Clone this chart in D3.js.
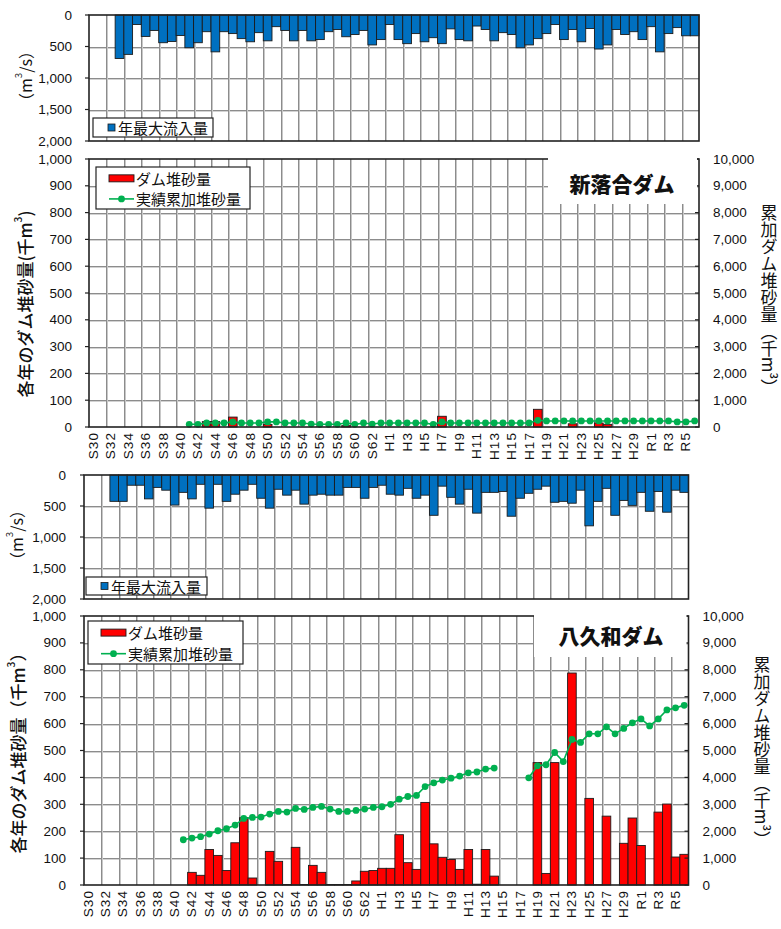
<!DOCTYPE html>
<html>
<head>
<meta charset="utf-8">
<script src="https://cdn.jsdelivr.net/npm/d3@7"></script>
<style>
  body { margin: 0; background: #fff; }
  svg { display: block; }
</style>
</head>
<body>
<svg id="chart" width="781" height="929"></svg>
<script>
// Fiscal years S30 (1955) through R6 (2024)
const years = [
  "S30","S31","S32","S33","S34","S35","S36","S37","S38","S39",
  "S40","S41","S42","S43","S44","S45","S46","S47","S48","S49",
  "S50","S51","S52","S53","S54","S55","S56","S57","S58","S59",
  "S60","S61","S62","S63","H1","H2","H3","H4","H5","H6",
  "H7","H8","H9","H10","H11","H12","H13","H14","H15","H16",
  "H17","H18","H19","H20","H21","H22","H23","H24","H25","H26",
  "H27","H28","H29","H30","R1","R2","R3","R4","R5","R6"
];

// Axis tick values
const inflowTicks = [0, 500, 1000, 1500, 2000];
const sedimentTicks = [0, 100, 200, 300, 400, 500, 600, 700, 800, 900, 1000];
const cumulativeTicks = [0, 1000, 2000, 3000, 4000, 5000, 6000, 7000, 8000, 9000, 10000];

// 新落合ダム: annual maximum inflow (m3/s)
const ochiaiInflow = [
  null, null, null, 690, 625, 150, 340, 245, 440, 420,
  325, 520, 440, 265, 585, 265, 295, 375, 425, 280,
  410, 185, 245, 410, 245, 410, 390, 265, 230, 345,
  310, 245, 475, 390, 150, 390, 455, 295, 425, 360,
  455, 220, 390, 410, 175, 230, 410, 280, 310, 520,
  475, 375, 295, 150, 390, 230, 425, 215, 540, 475,
  230, 310, 265, 390, 185, 585, 295, 200, 330, 330
];
// 新落合ダム: annual sedimentation (thousand m3)
const ochiaiSediment = [
  null, null, null, null, null, null, null, null, null, null,
  null, 0, 0, 20, 20, 0, 37, 0, 0, 0,
  10, 0, 0, 0, 0, 0, 0, 0, 0, 5,
  0, 0, 0, 0, 0, 0, 0, 0, 0, 0,
  40, 0, 0, 0, 0, 0, 0, 0, 0, 0,
  0, 66, 0, 0, 0, 12, 0, 0, 15, 10,
  0, 0, 0, 0, 0, 0, 0, 0, 0, 0
];
// 新落合ダム: cumulative sedimentation (thousand m3)
const ochiaiCumulative = [
  null, null, null, null, null, null, null, null, null, null,
  null, 100, 100, 150, 150, 150, 190, 150, 150, 150,
  190, 190, 150, 150, 150, 110, 100, 100, 100, 150,
  100, 150, 110, 150, 150, 150, 150, 150, 150, 100,
  190, 150, 150, 150, 150, 150, 150, 150, 150, 150,
  150, 250, 225, 225, 225, 225, 225, 225, 225, 225,
  225, 225, 225, 225, 225, 225, 225, 190, 190, 225
];

// 八久和ダム: annual maximum inflow (m3/s)
const hakuwaInflow = [
  null, null, null, 425, 425, 165, 165, 385, 200, 245,
  485, 280, 385, 150, 535, 150, 425, 310, 245, 150,
  375, 535, 230, 325, 245, 470, 325, 310, 325, 325,
  200, 200, 375, 200, 165, 310, 325, 215, 375, 325,
  650, 180, 360, 470, 230, 615, 280, 280, 265, 665,
  375, 295, 230, 180, 440, 425, 455, 245, 820, 425,
  215, 650, 410, 490, 280, 585, 265, 600, 245, 280
];
// 八久和ダム: annual sedimentation (thousand m3)
const hakuwaSediment = [
  null, null, null, null, null, null, null, null, null, null,
  null, null, 47, 36, 132, 110, 54, 157, 250, 26,
  0, 125, 88, 2, 140, 2, 73, 47, 2, 2,
  2, 15, 51, 54, 62, 62, 187, 83, 58, 307,
  153, 103, 95, 58, 132, 3, 132, 33, null, null,
  null, 0, 455, 43, 455, 0, 788, 0, 322, 1,
  256, 0, 155, 249, 147, 0, 271, 301, 104, 114
];
// 八久和ダム: cumulative sedimentation (thousand m3)
const hakuwaCumulative = [
  null, null, null, null, null, null, null, null, null, null,
  null, 1683, 1745, 1795, 1894, 2017, 2092, 2228, 2475, 2512,
  2525, 2636, 2735, 2710, 2847, 2809, 2884, 2921, 2822, 2735,
  2735, 2772, 2822, 2884, 2908, 3000, 3190, 3290, 3330, 3660,
  3800, 3900, 3970, 4050, 4170, 4200, 4310, 4345, null, null,
  null, 3985, 4430, 4470, 4925, 4590, 5410, 5300, 5620, 5620,
  5880, 5620, 5820, 6030, 6175, 5915, 6175, 6510, 6585, 6680
];

const NUM_FONT = "'Liberation Sans', Arial, sans-serif";
const JP_FONT = "'Noto Sans CJK JP', 'Noto Sans', sans-serif";
const BLUE = "#0070C0", RED = "#FF0000", GREEN = "#00B050";
const fmt = d3.format(",");

const svg = d3.select("#chart");

// Writes text pieces into a <text>, raising the pieces marked as superscript
function richText(sel, parts, size) {
  const lift = size * 0.42;
  let raised = false;
  parts.forEach(([str, sup]) => {
    const t = sel.append("tspan").text(str);
    if (sup && !raised) { t.attr("dy", -lift).attr("font-size", size * 0.6); raised = true; }
    else if (!sup && raised) { t.attr("dy", lift); raised = false; }
  });
}

function gridLines(g, xs, ys, box) {
  ys.forEach(y => {
    const yy = Math.round(y) + 0.5;
    g.append("line").attr("x1", box.left).attr("x2", box.right)
      .attr("y1", yy + 1).attr("y2", yy + 1).attr("stroke", "#d2d2d2");
    g.append("line").attr("x1", box.left).attr("x2", box.right)
      .attr("y1", yy).attr("y2", yy).attr("stroke", "#8c8c8c");
  });
  xs.forEach(x => {
    const xx = Math.round(x) + 0.5;
    g.append("line").attr("x1", xx + 1).attr("x2", xx + 1)
      .attr("y1", box.top).attr("y2", box.bottom).attr("stroke", "#c8c8c8");
    g.append("line").attr("x1", xx).attr("x2", xx)
      .attr("y1", box.top).attr("y2", box.bottom).attr("stroke", "#8c8c8c");
  });
}

function makeX(box) {
  return d3.scaleBand().domain(years).range([box.left, box.right]).paddingInner(0).paddingOuter(0);
}

function verticalGridPositions(x) {
  return years.filter((d, i) => i > 0 && i % 2 === 0).map(d => x(d));
}

function frame(g, box) {
  g.append("rect").attr("x", box.left).attr("y", box.top)
    .attr("width", box.right - box.left).attr("height", box.bottom - box.top)
    .attr("fill", "none").attr("stroke", "#222").attr("stroke-width", 1.6);
}

function leftAxis(g, y, ticks, box, labelX) {
  ticks.forEach(t => {
    const yy = y(t);
    g.append("line").attr("x1", box.left - 4).attr("x2", box.left)
      .attr("y1", yy).attr("y2", yy).attr("stroke", "#222").attr("stroke-width", 1.2);
    g.append("text").attr("x", labelX).attr("y", yy)
      .attr("text-anchor", "end").attr("dominant-baseline", "central")
      .attr("font-family", NUM_FONT).attr("font-size", 13.5).attr("fill", "#111")
      .text(fmt(t));
  });
}

function rightAxis(g, y, ticks, box, labelX) {
  ticks.forEach(t => {
    const yy = y(t);
    g.append("line").attr("x1", box.right - 4).attr("x2", box.right)
      .attr("y1", yy).attr("y2", yy).attr("stroke", "#222").attr("stroke-width", 1.2);
    g.append("text").attr("x", labelX).attr("y", yy)
      .attr("text-anchor", "start").attr("dominant-baseline", "central")
      .attr("font-family", NUM_FONT).attr("font-size", 13.5).attr("fill", "#111")
      .text(fmt(t));
  });
}

function xLabels(g, x, box) {
  years.forEach((d, i) => {
    if (i % 2 !== 0) return;
    const cx = x(d) + x.bandwidth() / 2;
    g.append("text")
      .attr("transform", `translate(${cx},${box.bottom + 5}) rotate(-90)`)
      .attr("text-anchor", "end").attr("dominant-baseline", "central")
      .attr("font-family", NUM_FONT).attr("font-size", 13.5)
      .attr("letter-spacing", 1.1).attr("fill", "#111")
      .text(d);
  });
}

function inflowPanel(box, values, opt) {
  const g = svg.append("g");
  const x = makeX(box);
  const y = d3.scaleLinear().domain([0, 2000]).range([box.top, box.bottom]);
  g.append("rect").attr("x", box.left).attr("y", box.top)
    .attr("width", box.right - box.left).attr("height", box.bottom - box.top).attr("fill", "#fff");
  gridLines(g, verticalGridPositions(x), inflowTicks.slice(1, -1).map(y), box);

  g.selectAll(".bar").data(years.map((d, i) => ({ d, v: values[i] })).filter(o => o.v != null))
    .join("rect")
    .attr("x", o => x(o.d)).attr("width", x.bandwidth())
    .attr("y", y(0)).attr("height", o => y(o.v) - y(0))
    .attr("fill", BLUE).attr("stroke", "#1b1b1b").attr("stroke-width", 0.9);

  frame(g, box);
  leftAxis(g, y, inflowTicks, box, opt.labelX);

  // unit title
  const ut = g.append("text")
    .attr("transform", `translate(${opt.titleX},${(box.top + box.bottom) / 2 - 2}) rotate(-90)`)
    .attr("text-anchor", "middle").attr("dominant-baseline", "central")
    .attr("font-family", JP_FONT).attr("font-size", 16).attr("fill", "#111");
  richText(ut, [["（m", false], ["3", true], ["/s）", false]], 16);

  // legend
  const lg = opt.legend;
  g.append("rect").attr("x", lg.x).attr("y", lg.y).attr("width", lg.w).attr("height", lg.h)
    .attr("fill", "#fff").attr("stroke", "#222").attr("stroke-width", 1.2);
  g.append("rect").attr("x", lg.x + 15).attr("y", lg.y + lg.h / 2 - 3.5).attr("width", 7).attr("height", 7)
    .attr("fill", BLUE).attr("stroke", "#1b1b1b").attr("stroke-width", 0.8);
  g.append("text").attr("x", lg.x + 25).attr("y", lg.y + lg.h / 2)
    .attr("dominant-baseline", "central")
    .attr("font-family", JP_FONT).attr("font-size", 15).attr("fill", "#111")
    .text("年最大流入量");
}

function sedimentPanel(box, bars, cum, opt) {
  const g = svg.append("g");
  const x = makeX(box);
  const y = d3.scaleLinear().domain([0, 1000]).range([box.bottom, box.top]);
  const y2 = d3.scaleLinear().domain([0, 10000]).range([box.bottom, box.top]);
  gridLines(g, verticalGridPositions(x), sedimentTicks.slice(1, -1).map(y), box);

  g.selectAll(".bar").data(years.map((d, i) => ({ d, v: bars[i] })).filter(o => o.v != null && o.v > 0))
    .join("rect")
    .attr("x", o => x(o.d)).attr("width", x.bandwidth())
    .attr("y", o => y(o.v)).attr("height", o => y(0) - y(o.v))
    .attr("fill", RED).attr("stroke", "#1b1b1b").attr("stroke-width", 0.9);

  const pts = years.map((d, i) => ({ d, v: cum[i] }));
  const line = d3.line()
    .defined(o => o.v != null)
    .x(o => x(o.d) + x.bandwidth() / 2)
    .y(o => y2(o.v));
  g.append("path").attr("d", line(pts)).attr("fill", "none")
    .attr("stroke", GREEN).attr("stroke-width", 1.6);
  g.selectAll(".dot").data(pts.filter(o => o.v != null)).join("circle")
    .attr("cx", o => x(o.d) + x.bandwidth() / 2).attr("cy", o => y2(o.v))
    .attr("r", 3.4).attr("fill", GREEN);

  frame(g, box);
  leftAxis(g, y, sedimentTicks, box, opt.labelX);
  rightAxis(g, y2, cumulativeTicks, box, box.right + 14);
  xLabels(g, x, box);

  // dam name box
  const tb = opt.titleBox;
  g.append("rect").attr("x", tb.x).attr("y", box.top - 2).attr("width", box.right - 2 - tb.x)
    .attr("height", tb.bottom - box.top + 2).attr("fill", "#fff");
  g.append("text").attr("x", tb.tx).attr("y", tb.ty)
    .attr("text-anchor", "middle").attr("dominant-baseline", "central")
    .attr("font-family", JP_FONT).attr("font-weight", 900).attr("font-size", 21).attr("fill", "#111")
    .text(opt.name);

  // left axis title
  const lt = g.append("text")
    .attr("transform", `translate(${opt.leftTitle.x},${opt.leftTitle.y}) rotate(-90)`)
    .attr("text-anchor", "middle").attr("dominant-baseline", "central")
    .attr("font-family", JP_FONT).attr("font-weight", 500).attr("font-size", 17).attr("fill", "#111");
  richText(lt, opt.leftTitle.parts, 17);

  // right axis title (vertical writing)
  g.append("text")
    .attr("x", opt.rightTitle.x).attr("y", opt.rightTitle.y)
    .attr("text-anchor", "middle")
    .style("writing-mode", "vertical-rl")
    .attr("font-family", JP_FONT).attr("font-size", 17).attr("fill", "#111")
    .text("累加ダム堆砂量（千m³）");

  // legend
  const lg = opt.legend;
  g.append("rect").attr("x", lg.x).attr("y", lg.y).attr("width", lg.w).attr("height", lg.h)
    .attr("fill", "#fff").attr("stroke", "#222").attr("stroke-width", 1.2);
  const r1 = lg.y + lg.h * 0.27, r2 = lg.y + lg.h * 0.76;
  g.append("rect").attr("x", lg.x + 13).attr("y", r1 - 3.5).attr("width", 25).attr("height", 7)
    .attr("fill", RED).attr("stroke", "#1b1b1b").attr("stroke-width", 0.9);
  g.append("text").attr("x", lg.x + 40).attr("y", r1).attr("dominant-baseline", "central")
    .attr("font-family", JP_FONT).attr("font-size", 15).attr("fill", "#111").text("ダム堆砂量");
  g.append("line").attr("x1", lg.x + 13).attr("x2", lg.x + 38).attr("y1", r2).attr("y2", r2)
    .attr("stroke", GREEN).attr("stroke-width", 1.6);
  g.append("circle").attr("cx", lg.x + 25.5).attr("cy", r2).attr("r", 3.4).attr("fill", GREEN);
  g.append("text").attr("x", lg.x + 40).attr("y", r2).attr("dominant-baseline", "central")
    .attr("font-family", JP_FONT).attr("font-size", 15).attr("fill", "#111").text("実績累加堆砂量");
}

// 新落合ダム
inflowPanel({ left: 89, right: 699, top: 15, bottom: 141 }, ochiaiInflow, {
  labelX: 72, titleX: 25,
  legend: { x: 93, y: 118, w: 120, h: 19 }
});
sedimentPanel({ left: 89, right: 699, top: 159, bottom: 427 }, ochiaiSediment, ochiaiCumulative, {
  labelX: 72,
  name: "新落合ダム",
  titleBox: { x: 548, bottom: 204, tx: 622, ty: 183 },
  leftTitle: { x: 24, y: 304, parts: [["各年のダム堆砂量(千m", false], ["3", true], [")", false]] },
  rightTitle: { x: 769, y: 300 },
  legend: { x: 96, y: 167, w: 154, h: 42 }
});

// 八久和ダム
inflowPanel({ left: 84, right: 688.5, top: 475, bottom: 599 }, hakuwaInflow, {
  labelX: 66, titleX: 16,
  legend: { x: 86, y: 577, w: 121, h: 18 }
});
sedimentPanel({ left: 84, right: 688.5, top: 616, bottom: 885 }, hakuwaSediment, hakuwaCumulative, {
  labelX: 66,
  name: "八久和ダム",
  titleBox: { x: 534, bottom: 657, tx: 611, ty: 635 },
  leftTitle: { x: 17, y: 749, parts: [["各年のダム堆砂量（千m", false], ["3", true], ["）", false]] },
  rightTitle: { x: 762, y: 752 },
  legend: { x: 88, y: 621, w: 155, h: 43 }
});
</script>
</body>
</html>
